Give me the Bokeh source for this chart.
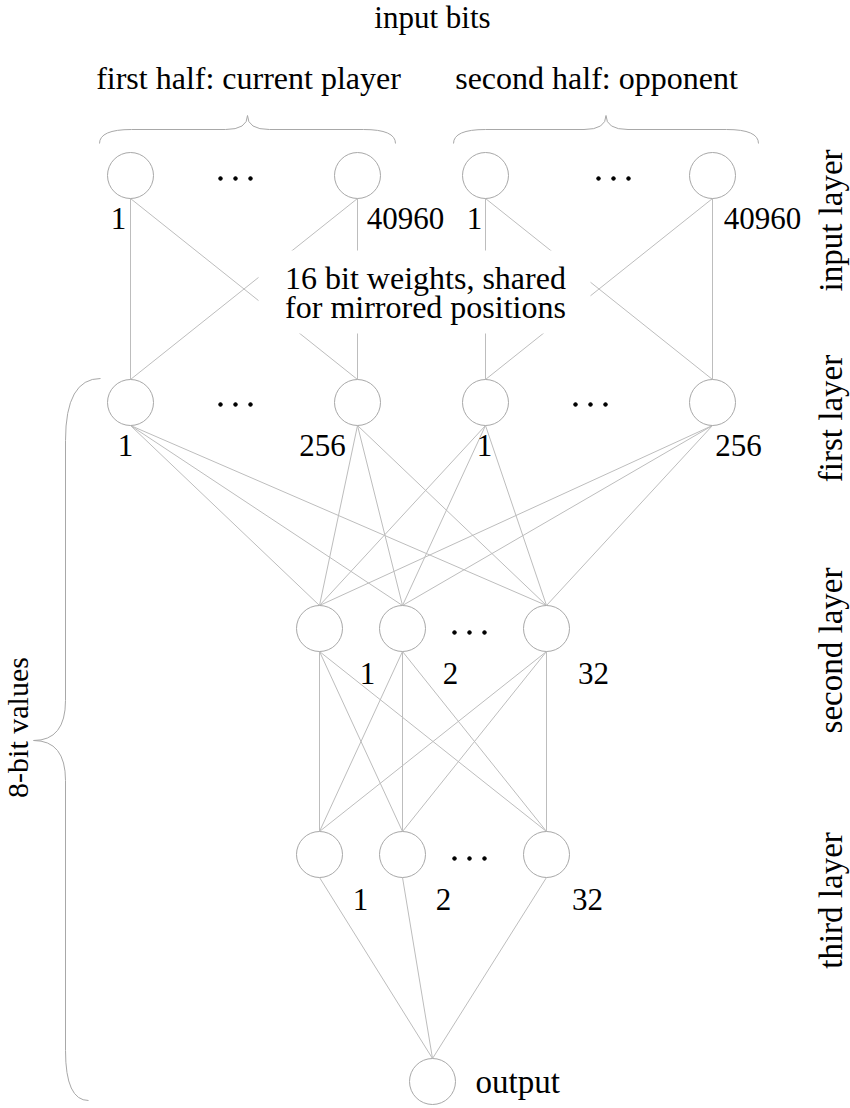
from bokeh.plotting import figure
from bokeh.models import Range1d
from bokeh.embed import file_html
from bokeh.resources import INLINE
from bokeh.core.properties import value
import math

# ---------------- data ----------------
layer_names = ["input layer", "first layer", "second layer", "third layer"]
input_labels = ["1", "40960", "1", "40960"]
first_labels = ["1", "256", "1", "256"]
second_labels = ["1", "2", "32"]
third_labels = ["1", "2", "32"]
output_label = "output"
top_title = "input bits"
half_titles = ["first half: current player", "second half: opponent"]
middle_text = ["16 bit weights, shared", "for mirrored positions"]
side_text = "8-bit values"
# connections (source index -> target index)
input_first_edges = [(0, 0), (0, 1), (1, 0), (1, 1), (2, 2), (2, 3), (3, 2), (3, 3)]
first_second_edges = [(i, j) for i in range(4) for j in range(3)]
second_third_edges = [(i, j) for i in range(3) for j in range(3)]
third_output_edges = [(i, 0) for i in range(3)]

# ---------------- layout ----------------
R = 23
FONT = value("Liberation Serif")
EDGE = "#bdbdbd"
NODE = "#a8a8a8"

in_x = [130, 357, 485, 712]; in_y = 175
f1_x = [130, 357, 485, 712]; f1_y = 402
s2_x = [319, 402, 546]; s2_y = 628
t3_x = [319, 402, 546]; t3_y = 854
out_x = [432]; out_y = 1081

p = figure(width=850, height=1108, output_backend="svg", toolbar_location=None,
           x_range=Range1d(0, 850), y_range=Range1d(1108, 0), min_border=0)
p.axis.visible = False
p.grid.visible = False
p.outline_line_color = None
p.background_fill_color = "white"
p.border_fill_color = "white"


def edges(src_x, src_y, dst_x, dst_y, pairs):
    xs = [[src_x[a], dst_x[b]] for a, b in pairs]
    ys = [[src_y + R, dst_y - R] for a, b in pairs]
    p.multi_line(xs, ys, line_color=EDGE, line_width=1)


edges(in_x, in_y, f1_x, f1_y, input_first_edges)
edges(f1_x, f1_y, s2_x, s2_y, first_second_edges)
edges(s2_x, s2_y, t3_x, t3_y, second_third_edges)
edges(t3_x, t3_y, out_x, out_y, third_output_edges)

# white box behind the middle text
p.quad(left=[258], right=[590], top=[250], bottom=[333], fill_color="white", line_color=None)

# nodes
for xs, y in [(in_x, in_y), (f1_x, f1_y), (s2_x, s2_y), (t3_x, t3_y), (out_x, out_y)]:
    p.circle(x=xs, y=[y] * len(xs), radius=R, fill_color="white", line_color=NODE, line_width=1)

# ellipsis dots
dot_centers = [(235, 178), (613, 178), (235, 404), (590, 404), (469, 632), (469, 858)]
dx, dy = [], []
for cx, cy in dot_centers:
    for o in (-15, 0, 15):
        dx.append(cx + o); dy.append(cy)
p.scatter(dx, dy, size=3.6, color="black")


def txt(xs, ys, texts, size="31px", angle=0.0, align="center"):
    p.text(x=xs, y=ys, text=texts, text_font=FONT, text_font_size=size,
           text_align=align, text_baseline="middle", angle=angle, text_color="black")


txt([118, 405, 474, 762], [218] * 4, input_labels)
txt([125, 322, 484, 738], [445] * 4, first_labels)
txt([367, 450, 593], [673] * 3, second_labels)
txt([360, 443, 587], [899] * 3, third_labels)
txt([475], [1081], [output_label], size="33px", align="left")
txt([432], [17], [top_title], size="31px")
txt([248, 596], [77, 77], half_titles, size="32px")
txt([425, 425], [277, 306], middle_text, size="32px")
txt([830] * 4, [220, 418, 650, 900], layer_names, size="33px", angle=math.pi / 2)
txt([17], [727], [side_text], size="30px", angle=math.pi / 2)


# braces
def hbrace(x0, x1, ye, yf, yt, w=32, wt=22):
    xm = (x0 + x1) / 2
    segs = [((x0, ye), (x0, yf), (x0 + w, yf)),
            ((xm - wt, yf), (xm, yf), (xm, yt)),
            ((xm, yt), (xm, yf), (xm + wt, yf)),
            ((x1 - w, yf), (x1, yf), (x1, ye))]
    p.quadratic(x0=[s[0][0] for s in segs], y0=[s[0][1] for s in segs],
                cx=[s[1][0] for s in segs], cy=[s[1][1] for s in segs],
                x1=[s[2][0] for s in segs], y1=[s[2][1] for s in segs],
                line_color=NODE, line_width=1)
    p.multi_line([[x0 + w, xm - wt], [xm + wt, x1 - w]], [[yf, yf], [yf, yf]],
                 line_color=NODE, line_width=1)


hbrace(99, 395, 143, 129, 115)
hbrace(453, 758, 143, 129, 115)

# vertical brace on the left
xf, xt, ym = 65, 33, 740
segs = [((100, 378), (65, 378), (65, 440)),
        ((65, 700), (65, ym), (xt, ym)),
        ((xt, ym), (65, ym), (65, 780)),
        ((65, 1050), (65, 1100), (88, 1100))]
p.quadratic(x0=[s[0][0] for s in segs], y0=[s[0][1] for s in segs],
            cx=[s[1][0] for s in segs], cy=[s[1][1] for s in segs],
            x1=[s[2][0] for s in segs], y1=[s[2][1] for s in segs],
            line_color=NODE, line_width=1)
p.multi_line([[65, 65], [65, 65]], [[440, 700], [780, 1050]], line_color=NODE, line_width=1)

open("out.html", "w").write(file_html(p, INLINE))
